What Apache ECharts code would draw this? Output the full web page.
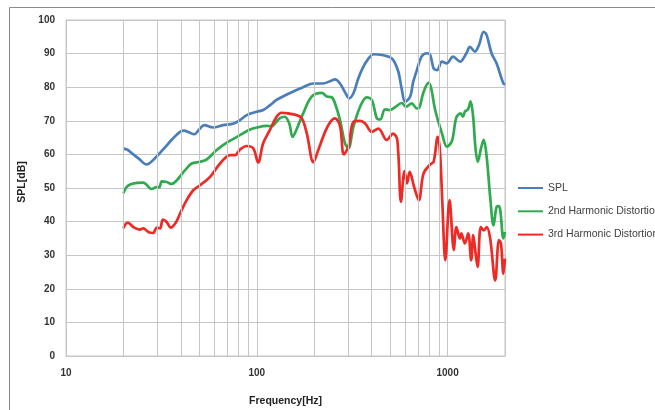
<!DOCTYPE html>
<html>
<head>
<meta charset="utf-8">
<script src="https://cdn.jsdelivr.net/npm/echarts@6/dist/echarts.min.js"></script>
<style>
html,body{margin:0;padding:0;background:#fff;}
#chart{width:655px;height:410px;}
</style>
</head>
<body>
<div id="chart"></div>
<script>
// ---- data (frequency in Hz, level in dB) ----
var seriesNames = ['SPL', '2nd Harmonic Distortion', '3rd Harmonic Distortion'];
var yTicks = [0, 10, 20, 30, 40, 50, 60, 70, 80, 90, 100];
var xLabelTicks = [10, 100, 1000];
var minorFreqs = [20, 30, 40, 50, 60, 70, 80, 90, 200, 300, 400, 500, 600, 700, 800, 900];

var splData = [
  [20,61.7],[21,61.4],[22,60.5],[24,58.8],[26.5,57.0],[28,57.8],[30,59.5],[33.3,62.3],[36,64.5],
  [39.6,66.7],[41.5,67.1],[44,66.6],[47,66.0],[50,67.5],[53,68.7],[59,68.0],[66.5,68.7],[75.6,69.2],
  [82,70.3],[88.6,71.7],[100,72.7],[108,73.2],[117,74.6],[127,76.2],[149.5,78.3],[175,80.0],
  [198,81.1],[223,81.1],[242,81.8],[257,82.3],[273,81.1],[290,78.5],[305,76.7],[321,78.2],
  [340,82.5],[362,86.1],[385,88.5],[409,89.8],[452,89.6],[510,88.6],[531,87.1],[553,84.5],
  [575,79.5],[599,75.7],[637,77.2],[660,81.5],[690,85.0],[730,89.1],[779,90.1],[811,89.6],
  [845,85.6],[881,85.1],[935,87.6],[992,87.1],[1068,89.1],[1161,87.6],[1255,90.1],[1310,92.0],
  [1392,90.6],[1460,92.5],[1546,96.5],[1603,95.5],[1700,90.1],[1806,87.1],[1961,81.1],[2000,80.8]
];

var h2Data = [
  [20,48.4],[20.8,50.3],[22,51.2],[23.5,51.5],[25.4,51.6],[26.5,50.9],[28.1,49.7],[29.9,50.3],
  [30.8,50.2],[31.8,52.0],[33.7,51.8],[35.8,51.2],[38.1,52.3],[40,53.8],[42.1,55.3],[45.6,57.3],
  [50.4,57.8],[54.7,58.5],[61.6,61.3],[69.6,63.5],[78.7,65.2],[90.4,67.2],[100,68.0],[112.6,68.5],
  [119,68.4],[131.8,70.7],[140,71.2],[148,69.2],[154,65.2],[161,67.2],[175,72.2],[194,77.2],
  [219,78.3],[233,77.2],[247,77.0],[257,75.2],[273,70.2],[290,63.3],[302,61.8],[321,68.2],
  [348,74.2],[377,77.0],[401,76.2],[426,70.7],[444,70.4],[470,73.4],[498,73.2],[529,74.0],
  [575,75.3],[606,74.2],[649,75.2],[690,73.7],[712,74.0],[748,78.5],[795,81.3],[821,79.6],
  [861,73.2],[935,66.2],[992,62.3],[1054,64.0],[1112,71.0],[1170,72.2],[1203,71.2],[1232,72.7],
  [1282,73.5],[1320,75.8],[1360,71.5],[1400,62.0],[1440,57.8],[1500,62.0],[1546,64.3],
  [1603,59.3],[1672,47.4],[1741,38.9],[1806,44.4],[1850,44.6],[1889,43.4],[1961,35.0],[2000,36.9]
];

var h3Data = [
  [20,38.0],[20.6,39.4],[21.2,39.6],[22.5,38.4],[24.4,37.6],[25.4,38.0],[27,36.9],[28.6,36.6],
  [29.9,38.2],[31.1,38.0],[32.2,40.6],[33.7,39.9],[35.4,38.2],[37.8,39.9],[39.6,42.4],[42.9,46.4],
  [46.6,49.4],[50.4,50.8],[56.9,53.3],[64.2,57.3],[72.5,59.8],[77,59.8],[81.8,61.5],[88.6,62.5],
  [95.8,61.8],[101.7,57.6],[108,63.3],[117,67.2],[127,71.2],[135,72.4],[146,72.2],[161,71.7],
  [172,70.8],[183,66.2],[198,57.7],[210,61.3],[228,66.7],[242,69.5],[257,70.7],[273,68.5],
  [286,60.0],[302,62.3],[321,69.7],[348,70.0],[370,69.2],[401,66.7],[434,67.7],[480,64.3],
  [518,66.2],[545,64.3],[570,45.9],[595,55.0],[613,51.4],[633,54.8],[668,50.3],[707,46.4],
  [748,54.3],[811,57.0],[845,57.8],[888,65.2],[912,61.0],[940,45.0],[973,28.5],[1024,46.4],
  [1079,31.5],[1112,38.4],[1161,35.0],[1181,36.5],[1232,33.5],[1282,36.5],[1330,28.5],[1363,36.0],
  [1406,30.0],[1437,26.5],[1493,38.4],[1550,37.4],[1603,38.4],[1672,35.0],[1777,22.5],[1860,34.5],
  [1905,33.5],[1961,24.5],[2000,29.0]
];

var colors = ['#4A7EBB', '#2FAA4F', '#EE2A26'];
var gridColor = '#c6c6c6';

var chart = echarts.init(document.getElementById('chart'), null, {renderer: 'canvas'});

function lineSeries(name, data, color) {
  return {
    name: name, type: 'line', data: data, smooth: 0.35, symbol: 'none', z: 3,
    lineStyle: {color: color, width: 2.7}, itemStyle: {color: color}
  };
}

var option = {
  animation: false,
  backgroundColor: '#fff',
  textStyle: {fontFamily: 'Liberation Sans, Arial, sans-serif'},
  graphic: [{
    type: 'rect', silent: true, z: -10,
    shape: {x: 9.5, y: 7.5, width: 700, height: 500},
    style: {fill: 'none', stroke: '#8a8a8a', lineWidth: 1}
  }],
  grid: {left: 66, right: 150, top: 20, bottom: 54, show: true, borderColor: gridColor, borderWidth: 1,
         containLabel: false, outerBoundsMode: 'none'},
  legend: {
    data: seriesNames, orient: 'vertical', left: 518, top: 182.5, padding: 0,
    itemWidth: 25, itemHeight: 14, itemGap: 12.3, icon: 'path://M0,6 L25,6 L25,8 L0,8 Z',
    textStyle: {fontSize: 10.5, color: '#404040', fontFamily: 'Liberation Sans, Arial, sans-serif'}
  },
  xAxis: {
    type: 'log', logBase: 10, min: 10, max: 2000,
    name: 'Frequency[Hz]', nameLocation: 'middle', nameGap: 40,
    nameTextStyle: {fontSize: 10.5, fontWeight: 'bold', color: '#222'},
    axisLine: {show: true, lineStyle: {color: gridColor}},
    axisTick: {show: false},
    axisLabel: {
      fontSize: 10, fontWeight: 'bold', color: '#333', margin: 12,
      formatter: function (v) { return xLabelTicks.indexOf(Math.round(v)) >= 0 ? String(Math.round(v)) : ''; }
    },
    splitLine: {show: true, lineStyle: {color: gridColor, width: 1}}
  },
  yAxis: {
    type: 'value', min: yTicks[0], max: yTicks[yTicks.length - 1], interval: 10,
    name: 'SPL[dB]', nameLocation: 'middle', nameGap: 30, nameRotate: 90,
    nameTextStyle: {fontSize: 10.5, fontWeight: 'bold', color: '#222', padding: [0, 0, 0, 12]},
    axisLine: {show: true, lineStyle: {color: gridColor}},
    axisTick: {show: false},
    axisLabel: {fontSize: 10, fontWeight: 'bold', color: '#333', margin: 11},
    splitLine: {show: true, lineStyle: {color: gridColor, width: 1}}
  },
  series: [
    {
      name: 'minor-grid', type: 'line', data: [], z: 1, silent: true,
      markLine: {
        silent: true, symbol: ['none', 'none'], animation: false,
        label: {show: false},
        lineStyle: {color: gridColor, width: 1, type: 'solid'},
        emphasis: {disabled: true},
        data: minorFreqs.map(function (f) { return {xAxis: f}; })
      }
    },
    lineSeries(seriesNames[0], splData, colors[0]),
    lineSeries(seriesNames[1], h2Data, colors[1]),
    lineSeries(seriesNames[2], h3Data, colors[2])
  ]
};
chart.setOption(option);
</script>
</body>
</html>
